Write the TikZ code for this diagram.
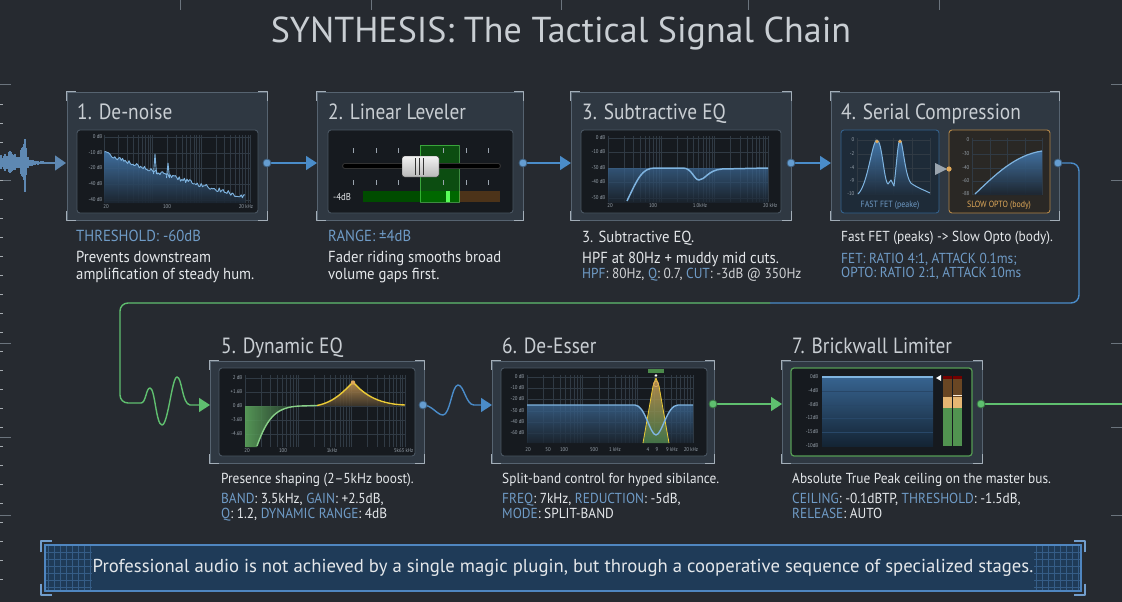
\documentclass[tikz,border=0pt]{standalone}
\usepackage{fontspec}
\setmainfont[FakeStretch=0.88]{PT Sans}
\newfontfamily\bodyfont[FakeStretch=0.92]{PT Sans}
\newfontfamily\widefont{PT Sans}
\usetikzlibrary{arrows.meta}

\definecolor{bgdark}{HTML}{262A30}
\definecolor{cardfill}{HTML}{2F3842}
\definecolor{cardedge}{HTML}{566370}
\definecolor{bracketc}{HTML}{A3AEB8}
\definecolor{panelfill}{HTML}{161A1F}
\definecolor{paneledge}{HTML}{4A5662}
\definecolor{gridc}{HTML}{303A44}
\definecolor{axisc}{HTML}{9AA4AE}
\definecolor{titlec}{HTML}{C9CED3}
\definecolor{bodyc}{HTML}{E4E7EA}
\definecolor{lblblue}{HTML}{6F9BC6}
\definecolor{flowb}{HTML}{4A8CC9}
\definecolor{flowg}{HTML}{5FBF6F}
\definecolor{specb}{HTML}{4F8FCF}
\definecolor{curveb}{HTML}{7FB4E0}
\definecolor{optoor}{HTML}{E0A95A}
\definecolor{eqgreen}{HTML}{6CC46A}
\definecolor{wavec}{HTML}{5E88B2}
\definecolor{tickc}{HTML}{6B747D}
\definecolor{bannerfill}{HTML}{1F3B58}
\definecolor{banneredge}{HTML}{4F86C0}

\tikzset{
  stagecard/.style={draw=cardedge, fill=cardfill, line width=0.8pt, inner sep=0pt},
  bracket/.style={draw=bracketc, line width=1.6pt},
  panel/.style={draw=paneledge, fill=panelfill, rounded corners=3pt, line width=0.9pt},
  gridline/.style={draw=gridc, line width=0.5pt},
  axislbl/.style={font=\fontsize{5.5}{6}\selectfont, text=axisc, inner sep=0.5pt},
  stagetitle/.style={font=\fontsize{22}{24}\selectfont, text=titlec, anchor=base west, inner sep=0pt},
  bodytext/.style={font=\bodyfont\fontsize{16}{18}\selectfont, text=bodyc, anchor=base west, inner sep=0pt},
  smalltext/.style={bodytext, font=\bodyfont\fontsize{14.5}{16}\selectfont},
  flowblue/.style={draw=flowb, line width=1.4pt},
  flowgreen/.style={draw=flowg, line width=1.4pt},
  tipb/.style={-{Triangle[length=11pt,width=14pt]}},
  portdot/.style={circle, fill=#1, draw=#1!60!black, line width=0.8pt, inner sep=0pt, minimum size=8pt},
}

% corner brackets of a card
\newcommand{\cardcorners}[1]{%
  \draw[bracket] ([yshift=-9pt]#1.north west) -- (#1.north west) -- ([xshift=9pt]#1.north west);
  \draw[bracket] ([yshift=-9pt]#1.north east) -- (#1.north east) -- ([xshift=-9pt]#1.north east);
  \draw[bracket] ([yshift=9pt]#1.south west) -- (#1.south west) -- ([xshift=9pt]#1.south west);
  \draw[bracket] ([yshift=9pt]#1.south east) -- (#1.south east) -- ([xshift=-9pt]#1.south east);
}
% log spaced grid over three decades
\newcommand{\loggrid}[4]{%
  \foreach \dec in {0,1,2}{\foreach \mul in {1,...,9}{
    \draw[gridline] ({#1+(#2-#1)/3*(\dec+log10(\mul))},#3) -- ({#1+(#2-#1)/3*(\dec+log10(\mul))},#4);}}
  \draw[gridline] (#2,#3) -- (#2,#4);
}

\begin{document}
\begin{tikzpicture}[x=1pt, y=-1pt, line join=round]
  \useasboundingbox (0,0) rectangle (1122,602);
  \fill[bgdark] (0,0) rectangle (1122,602);

  % frame ticks
  \foreach \ty in {85,180,343,437,515} \draw[tickc, line width=1pt] (0,\ty) -- (11,\ty);
  \foreach \ty in {104,123,...,590} \draw[tickc!60, line width=0.6pt] (0,\ty) -- (2.5,\ty);
  \foreach \ty in {85,180,343,427,515} \draw[tickc, line width=1pt] (1111,\ty) -- (1122,\ty);
  \foreach \tx in {180,371,561,748,939} \draw[tickc, line width=0.8pt] (\tx,0) -- (\tx,10);

  \node[font=\widefont\fontsize{36}{40}\selectfont, text=titlec] (title) at (561,34) {SYNTHESIS: The Tactical Signal Chain};

  % stage cards
  \node[stagecard, minimum width=200pt, minimum height=128pt] (c1) at (167,156) {};
  \node[stagecard, minimum width=206pt, minimum height=128pt] (c2) at (420,156) {};
  \node[stagecard, minimum width=220pt, minimum height=128pt] (c3) at (681,156) {};
  \node[stagecard, minimum width=228pt, minimum height=128pt] (c4) at (945,156) {};
  \node[stagecard, minimum width=214pt, minimum height=102pt] (c5) at (317,412) {};
  \node[stagecard, minimum width=222pt, minimum height=102pt] (c6) at (603,412) {};
  \node[stagecard, minimum width=200pt, minimum height=102pt] (c7) at (882,412) {};
  \foreach \c in {c1,c2,c3,c4,c5,c6,c7}{\cardcorners{\c}}

  % ports
  \coordinate (o1) at (267,163); \coordinate (i2) at (317,163);
  \coordinate (o2) at (523,163); \coordinate (i3) at (571,163);
  \coordinate (o3) at (791,163); \coordinate (i4) at (831,163);
  \coordinate (o4) at (1058,163); \coordinate (i5) at (210,405);
  \coordinate (o5) at (423,405); \coordinate (i6) at (492,405);
  \coordinate (o6) at (713,404); \coordinate (i7) at (782,404);
  \coordinate (o7) at (981,404); \coordinate (out) at (1122,404);
  \coordinate (sw) at (770,303);

  % input waveform
  \pgfmathsetseed{5}
  \foreach \wx in {0,...,50}{
    \pgfmathsetmacro\env{7*(1-\wx/58)+20*exp(-((\wx-24)^2)/10)+8*exp(-((\wx-10)^2)/40)}
    \pgfmathsetmacro\amp{\env*(0.5+0.5*rnd)}
    \draw[wavec, line width=1.1pt] (\wx,{163-\amp}) -- (\wx,{163+0.85*\amp});
  }
  \draw[wavec, line width=1.1pt] (25,139) -- (25,192);
  \coordinate (in) at (50,163);
  \draw[wavec, line width=1.2pt, -{Triangle[length=11pt,width=15pt]}] (in) -- (66,163);

  % 1. De-noise
  \node[stagetitle] (t1) at (77,119) {1. De-noise};
  \draw[panel] (77,130) rectangle (258,213);
  \loggrid{104}{250}{135}{203}
  \foreach \gy in {137,153,168,184,200} \draw[gridline] (104,\gy) -- (250,\gy);
  \foreach \gy/\gl in {137/0 dB,153/-10 dB,168/-20 dB,184/-40 dB,200/-40 dB}
    \node[axislbl, anchor=east] at (103,\gy) {\gl};
  \node[axislbl] at (106,207) {20};
  \node[axislbl] at (167,207) {100};
  \node[axislbl] at (246,207) {20 kHz};
  \pgfmathsetseed{11}
  \shade[top color=specb!80!panelfill, bottom color=specb!10!panelfill, fill opacity=0.9] (104.5,203) --
    plot[domain=104.5:245, samples=110, variable=\x] (\x,{151+46*((\x-104)/141)^0.8+2.2*rand}) -- (245,203) -- cycle;
  \pgfmathsetseed{11}
  \draw[curveb, line width=0.9pt] plot[domain=104.5:245, samples=110, variable=\x] (\x,{151+46*((\x-104)/141)^0.8+2.2*rand});
  \draw[curveb, line width=0.9pt] (153.5,174) -- (155,154) -- (156.5,174);
  \draw[curveb, line width=0.9pt] (166.5,178) -- (168,163) -- (169.5,178);
  \node[bodytext, text=lblblue] at (76,241) {THRESHOLD: -60dB};
  \node[bodytext] at (76,262) {Prevents downstream};
  \node[bodytext] at (76,279) {amplification of steady hum.};

  % 2. Linear Leveler
  \node[stagetitle] (t2) at (328,119) {2. Linear Leveler};
  \draw[panel] (328,130) rectangle (513,213);
  \fill[green!30!black] (363,191) rectangle (459,202);
  \fill[brown!40!black] (459,191) rectangle (500,202);
  \fill[green!55!black, fill opacity=0.45, draw=green!60!white, draw opacity=0.5] (420,145) rectangle (459,202);
  \fill[green!65!white] (446,191) rectangle (450,202);
  \foreach \tx in {353,376,398,443,466,488}{
    \draw[axisc, line width=0.8pt] (\tx,148) -- (\tx,153);
    \draw[axisc, line width=0.8pt] (\tx,180) -- (\tx,185);}
  \draw[line width=6pt, line cap=round, draw=gray!40!black] (345,166) -- (498,166);
  \draw[line width=3.6pt, line cap=round, draw=black] (345,166) -- (498,166);
  \shade[top color=white!90!gray, bottom color=gray!55, draw=gray!30!black, rounded corners=2.5pt] (402,156) rectangle (439,177);
  \foreach \kx in {415,419,423} \draw[gray!40!black, line width=0.8pt] (\kx,158) -- (\kx,175);
  \node[font=\fontsize{10}{11}\selectfont, text=bodyc, anchor=west, inner sep=0pt] at (333,197) {-4dB};
  \node[bodytext, text=lblblue] at (328,241) {RANGE: ±4dB};
  \node[bodytext] at (328,262) {Fader riding smooths broad};
  \node[bodytext] at (328,279) {volume gaps first.};

  % 3. Subtractive EQ
  \node[stagetitle] (t3) at (582,119) {3. Subtractive EQ};
  \draw[panel] (581,130) rectangle (781,213);
  \loggrid{608}{768}{136}{202}
  \foreach \gy in {138,152,168,182,198} \draw[gridline] (608,\gy) -- (768,\gy);
  \foreach \gy/\gl in {138/0 dB,152/-10 dB,168/-30 dB,182/-40 dB,198/-50 dB}
    \node[axislbl, anchor=east] at (606,\gy) {\gl};
  \node[axislbl] at (610,206) {20};
  \node[axislbl] at (653,206) {100};
  \node[axislbl] at (700,206) {1.0kHz};
  \node[axislbl, anchor=east] at (778,206) {20 kHz};
  \shade[top color=specb!65!panelfill, bottom color=specb!10!panelfill, fill opacity=0.75] (608,168) rectangle (768,202);
  \draw[curveb, line width=1.5pt] (627,201) .. controls (638,178) and (642,168) .. (655,168) -- (683,168)
    .. controls (692,168) and (694,180) .. (699,180) .. controls (705,180) and (708,170) .. (722,169) -- (768,168);
  \node[bodytext] at (582,242) {3. Subtractive EQ.};
  \node[bodytext] at (582,263) {HPF at 80Hz + muddy mid cuts.};
  \node[smalltext, text=bodyc!80!gray] at (582,278) {\textcolor{lblblue}{HPF}: 80Hz, \textcolor{lblblue}{Q}: 0.7, \textcolor{lblblue}{CUT}: -3dB @ 350Hz};

  % 4. Serial Compression
  \node[stagetitle] (t4) at (841,119) {4. Serial Compression};
  \draw[panel, draw=flowb!70!black, fill=panelfill!85!flowb] (841,130) rectangle (939,213);
  \draw[panel, draw=optoor!80!black, fill=panelfill!90!optoor] (949,130) rectangle (1050,213);
  \foreach \gx in {857,875,893,912,930} \draw[gridline] (\gx,138) -- (\gx,195);
  \foreach \gx in {972,990,1007,1025,1042} \draw[gridline] (\gx,138) -- (\gx,195);
  \foreach \gy/\ga/\gb in {140/0/0,154/-2/-30,168/-4/-40,181/-9/-60,194/-10/-88}{
    \draw[gridline] (857,\gy) -- (930,\gy);
    \draw[gridline] (972,\gy) -- (1042,\gy);
    \node[axislbl, anchor=east] at (855,\gy) {\ga};
    \node[axislbl, anchor=east] at (970,\gy) {\gb};}
  \shade[top color=specb!85!panelfill, bottom color=specb!15!panelfill, fill opacity=0.9] (858,195) -- (858,194)
    .. controls (868,185) and (872,140) .. (877,140) .. controls (882,140) and (884,182) .. (888,184) -- (891,180) -- (894,186)
    .. controls (897,160) and (898,140) .. (900,140) .. controls (903,140) and (905,180) .. (912,184)
    .. controls (918,188) and (924,190) .. (930,193) -- (930,195) -- cycle;
  \draw[curveb, line width=1pt] (858,194)
    .. controls (868,185) and (872,140) .. (877,140) .. controls (882,140) and (884,182) .. (888,184) -- (891,180) -- (894,186)
    .. controls (897,160) and (898,140) .. (900,140) .. controls (903,140) and (905,180) .. (912,184)
    .. controls (918,188) and (924,190) .. (930,193);
  \fill[optoor] (877,141.5) circle (1.8pt) (900,141.5) circle (1.8pt);
  \shade[top color=specb!80!panelfill, bottom color=specb!10!panelfill, fill opacity=0.9] (975,195) -- (975,194)
    .. controls (995,175) and (1015,155) .. (1042,151) -- (1042,195) -- cycle;
  \draw[curveb, line width=1.2pt] (975,194) .. controls (995,175) and (1015,155) .. (1042,151);
  \node[font=\fontsize{9}{10}\selectfont, text=lblblue] at (890,205) {FAST FET (peake)};
  \node[font=\fontsize{9}{10}\selectfont, text=optoor] at (999,205) {SLOW OPTO (body)};
  \coordinate (fetout) at (935,169); \coordinate (optoin) at (949,169);
  \fill[axisc] (fetout) -- ++(12,0) -- ++(-12,-6) -- cycle;
  \fill[axisc] (fetout) -- ++(12,0) -- ++(-12,6) -- cycle;
  \fill[optoor] (optoin) circle (2.6pt);
  \node[smalltext] at (841,241) {Fast FET (peaks) -> Slow Opto (body).};
  \node[smalltext, text=lblblue] at (841,263) {FET: RATIO 4:1, ATTACK 0.1ms;};
  \node[smalltext, text=lblblue] at (841,277) {OPTO: RATIO 2:1, ATTACK 10ms};

  % 5. Dynamic EQ
  \node[stagetitle] (t5) at (221,353) {5. Dynamic EQ};
  \draw[panel] (219,368) rectangle (415,456);
  \loggrid{245}{405}{375}{447}
  \foreach \gy/\gl in {378/2 dB,392/+1.6B,406/0 dB,420/-3.6B,434/-4.6B}{
    \draw[gridline] (245,\gy) -- (405,\gy);
    \node[axislbl, anchor=east] at (243,\gy) {\gl};}
  \node[axislbl] at (247,451) {20};
  \node[axislbl] at (283,451) {100};
  \node[axislbl] at (332,451) {1kHz};
  \node[axislbl, anchor=east] at (414,451) {5k63 kHz};
  \shade[left color=eqgreen!85!panelfill, right color=eqgreen!10!panelfill, fill opacity=0.85] (245,406) -- (300,406)
    .. controls (278,407) and (268,415) .. (257,447) -- (245,447) -- cycle;
  \shade[top color=optoor!90!panelfill, bottom color=optoor!20!panelfill, fill opacity=0.85] (317,406) .. controls (335,402) and (345,390) .. (353,382)
    .. controls (362,392) and (375,404) .. (400,406) -- cycle;
  \draw[eqgreen!80!white, line width=1.4pt] (257,446) .. controls (268,415) and (278,407) .. (300,406) -- (317,405.5);
  \draw[optoor!60!yellow, line width=1.4pt] (317,405.5) .. controls (335,402) and (345,390) .. (353,382)
    .. controls (362,392) and (375,404) .. (405,405);
  \fill[optoor] (353,382.5) circle (2.2pt);
  \node[smalltext] at (221,483) {Presence shaping (2–5kHz boost).};
  \node[smalltext] at (221,503) {\textcolor{lblblue}{BAND}: 3.5kHz, \textcolor{lblblue}{GAIN}: +2.5dB,};
  \node[smalltext] at (221,518) {\textcolor{lblblue}{Q}: 1.2, \textcolor{lblblue}{DYNAMIC RANGE}: 4dB};

  % 6. De-Esser
  \node[stagetitle] (t6) at (502,353) {6. De-Esser};
  \draw[panel] (501,368) rectangle (707,456);
  \loggrid{527}{693}{375}{443}
  \foreach \gy/\gl in {377/0 dB,388/-10 dB,399/-20 dB,411/-30 dB,422/-40 dB,433/-60 dB}{
    \draw[gridline] (527,\gy) -- (693,\gy);
    \node[axislbl, anchor=east] at (525,\gy) {\gl};}
  \foreach \lx/\ll in {528/20,548/50,564/100,594/500,615/1 kHz,648/4,657/9,672/9 kHz,691/20 kHz}
    \node[axislbl] at (\lx,450) {\ll};
  \shade[top color=specb!65!panelfill, bottom color=specb!10!panelfill, fill opacity=0.8] (527,405) -- (635,405)
    .. controls (645,405) and (650,435) .. (656,435) .. controls (662,435) and (667,405) .. (678,405) -- (693,405) -- (693,443) -- (527,443) -- cycle;
  \shade[top color=optoor!90!panelfill, bottom color=eqgreen!60!panelfill, fill opacity=0.85] (643,443) -- (653,386) -- (656,378) -- (659,386) -- (669,443) -- cycle;
  \draw[optoor!60!yellow, line width=0.8pt] (643,443) -- (653,386) -- (656,378) -- (659,386) -- (669,443);
  \draw[curveb, line width=1.4pt] (527,405) -- (635,405) .. controls (645,405) and (650,435) .. (656,435)
    .. controls (662,435) and (667,405) .. (678,405) -- (693,405);
  \fill[eqgreen!70!black] (648,369) rectangle (664,373);
  \draw[optoor, line width=0.8pt] (656,384) circle (2.6pt);
  \fill[white] (656,375.5) circle (1.3pt);
  \node[smalltext] at (502,483) {Split-band control for hyped sibilance.};
  \node[smalltext] at (502,503) {\textcolor{lblblue}{FREQ}: 7kHz, \textcolor{lblblue}{REDUCTION}: -5dB,};
  \node[smalltext] at (502,518) {\textcolor{lblblue}{MODE}: SPLIT-BAND};

  % 7. Brickwall Limiter
  \node[stagetitle] (t7) at (792,353) {7. Brickwall Limiter};
  \draw[panel, draw=eqgreen!80!black, line width=1.2pt] (791,368) rectangle (972,456);
  \shade[top color=specb!70!black, bottom color=specb!25!black] (822,376) rectangle (933,446);
  \foreach \gy in {391,405,418,432} \draw[specb!50!black, line width=0.6pt] (822,\gy) -- (933,\gy);
  \draw[curveb, line width=1.6pt] (822,377) -- (933,377);
  \foreach \gy/\gl in {377/0dB,391/-4dB,405/-8dB,418/-12dB,432/-15dB,446/-10dB}
    \node[axislbl, anchor=east] at (819,\gy) {\gl};
  \fill[white] (936,378) -- (941,375) -- (941,381) -- cycle;
  \foreach \mx in {943,953}{
    \fill[red!45!black] (\mx,376) rectangle (\mx+9,379);
    \fill[brown!55!black] (\mx,379) rectangle (\mx+9,397);
    \fill[optoor!85!white] (\mx,397) rectangle (\mx+9,408);
    \fill[eqgreen!75!black] (\mx,408) rectangle (\mx+9,446);}
  \draw[white!80!optoor, line width=0.8pt] (953,395) -- (962,395);
  \node[smalltext] at (792,483) {Absolute True Peak ceiling on the master bus.};
  \node[smalltext] at (792,503) {\textcolor{lblblue}{CEILING}: -0.1dBTP, \textcolor{lblblue}{THRESHOLD}: -1.5dB,};
  \node[smalltext] at (792,518) {\textcolor{lblblue}{RELEASE}: AUTO};

  % connectors
  \draw[flowblue, tipb] (o1) -- (i2);
  \draw[flowblue, tipb] (o2) -- (i3);
  \draw[flowblue, tipb] (o3) -- (i4);
  \draw[flowblue, rounded corners=8pt] (o4) -- (1079,163) -- (1079,303) -- (sw);
  \draw[flowgreen, rounded corners=8pt] (sw) -- (120,303) -- (120,403) -- (141,403);
  \draw[flowgreen, tipb] (141,403) .. controls (146,403) and (146,388) .. (150,388)
    .. controls (155,388) and (156,425) .. (162,425) .. controls (168,425) and (172,377) .. (177,377)
    .. controls (182,377) and (182,404) .. (190,405) -- (i5);
  \draw[flowblue, tipb] (o5) .. controls (432,405) and (437,415) .. (443,415)
    .. controls (450,415) and (452,385) .. (458,385) .. controls (464,385) and (466,405) .. (474,405) -- (i6);
  \draw[flowgreen, tipb] (o6) -- (i7);
  \draw[flowgreen] (o7) -- (out);
  \foreach \p in {o1,o2,o3,o4,o5} \node[portdot=flowb!85!white] at (\p) {};
  \foreach \p in {o6,o7} \node[portdot=flowg] at (\p) {};

  % closing note
  \node[draw=banneredge, fill=bannerfill, line width=1.4pt, minimum width=1036pt, minimum height=46pt, inner sep=0pt] (note) at (563,568) {};
  \foreach \gx in {48,54,...,90} \draw[banneredge!45!bannerfill, line width=0.5pt] (\gx,546) -- (\gx,590);
  \foreach \gx in {1036,1042,...,1078} \draw[banneredge!45!bannerfill, line width=0.5pt] (\gx,546) -- (\gx,590);
  \foreach \gy in {552,559,566,573,580,587}{
    \draw[banneredge!45!bannerfill, line width=0.5pt] (46,\gy) -- (92,\gy);
    \draw[banneredge!45!bannerfill, line width=0.5pt] (1034,\gy) -- (1080,\gy);}
  \draw[banneredge, line width=1.4pt] (note.north west) rectangle (note.south east);
  \draw[banneredge!80!white, line width=1.8pt] ([xshift=-3pt,yshift=-8pt]note.north west) -- ([xshift=-3pt,yshift=3pt]note.north west) -- ([xshift=8pt,yshift=3pt]note.north west);
  \draw[banneredge!80!white, line width=1.8pt] ([xshift=3pt,yshift=-8pt]note.north east) -- ([xshift=3pt,yshift=3pt]note.north east) -- ([xshift=-8pt,yshift=3pt]note.north east);
  \draw[banneredge!80!white, line width=1.8pt] ([xshift=-3pt,yshift=8pt]note.south west) -- ([xshift=-3pt,yshift=-3pt]note.south west) -- ([xshift=8pt,yshift=-3pt]note.south west);
  \draw[banneredge!80!white, line width=1.8pt] ([xshift=3pt,yshift=8pt]note.south east) -- ([xshift=3pt,yshift=-3pt]note.south east) -- ([xshift=-8pt,yshift=-3pt]note.south east);
  \node[font=\widefont\fontsize{18.7}{21}\selectfont, text=bodyc] (notetext) at (563,568) {Professional audio is not achieved by a single magic plugin, but through a cooperative sequence of specialized stages.};
\end{tikzpicture}
\end{document}
